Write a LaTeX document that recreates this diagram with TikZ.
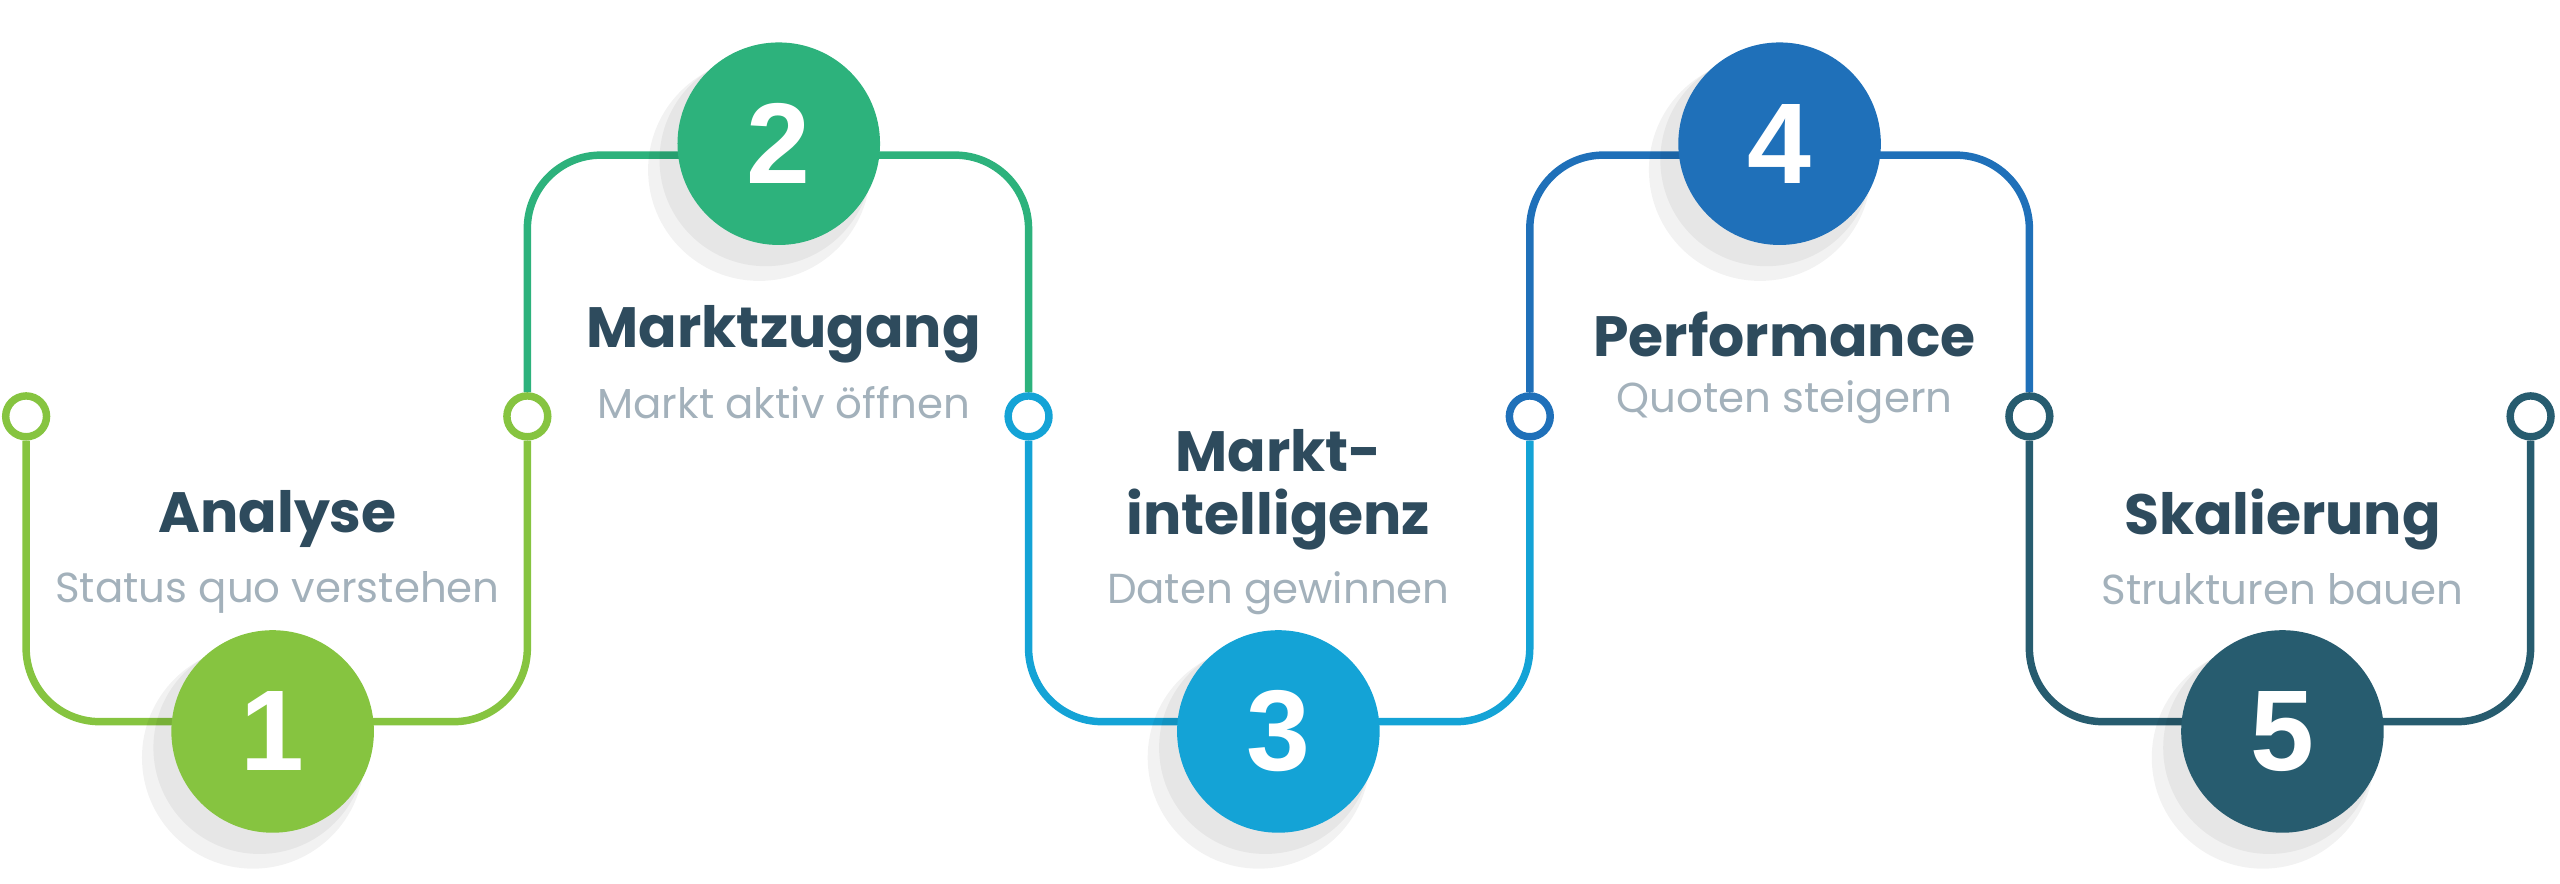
\documentclass[tikz,border=0pt]{standalone}
\usepackage{fontspec}
\setmainfont{Poppins}
\newfontfamily\numfont{Liberation Sans}
\usetikzlibrary{positioning}
\definecolor{cA}{HTML}{86C440}
\definecolor{cB}{HTML}{2DB27C}
\definecolor{cC}{HTML}{14A3D6}
\definecolor{cD}{HTML}{1F70B9}
\definecolor{cE}{HTML}{275C6F}
\definecolor{txt}{HTML}{2E4B5D}
\definecolor{sub}{HTML}{A3B1BB}
\tikzset{
  port/.style={circle, draw=#1, line width=1.3pt, fill=white, minimum size=0.25cm, inner sep=0pt},
  seg/.style={draw=#1, line width=1.3pt, rounded corners=0.45cm},
  step/.style={circle, fill=#1, minimum size=1.24cm, inner sep=0pt, text=white, font=\numfont\bfseries\fontsize{20}{20}\selectfont},
  halo/.style={circle, fill=black, opacity=0.05, minimum size=1.3cm, inner sep=0pt},
  title/.style={text=txt, font=\bfseries\fontsize{9.9}{11}\selectfont, align=center},
  subtitle/.style={text=sub, font=\fontsize{7.3}{8}\selectfont}
}
\begin{document}
\begin{tikzpicture}[x=0.01cm,y=-0.01cm]
  \useasboundingbox (0,0) rectangle (1568,541);
  % ports
  \node[port=cA] (p0) at (16,255) {};
  \node[port=cA] (p1) at (323,255) {};
  \node[port=cC] (p2) at (630,255) {};
  \node[port=cD] (p3) at (937,255) {};
  \node[port=cE] (p4) at (1243,255) {};
  \node[port=cE] (p5) at (1550,255) {};
  % track
  \draw[seg=cA] (p0.south) -- (16,442) -- (323,442) -- (p1.south);
  \draw[seg=cB] (p1.north) -- (323,95) -- (630,95) -- (p2.north);
  \draw[seg=cC] (p2.south) -- (630,442) -- (937,442) -- (p3.south);
  \draw[seg=cD] (p3.north) -- (937,95) -- (1243,95) -- (p4.north);
  \draw[seg=cE] (p4.south) -- (1243,442) -- (1550,442) -- (p5.south);
  % steps
  \foreach \x/\y/\c/\n in {167/448/cA/1, 477/88/cB/2, 783/448/cC/3, 1090/88/cD/4, 1398/448/cE/5}{
    \node[halo] at (\x-8,\y+10) {};
    \node[halo, minimum size=1.36cm] at (\x-12,\y+16) {};
    \node[step=\c] (s\n) at (\x,\y) {\n};
  }
  % labels
  \node[title] (t1) at (170,318) {Analyse};
  \node[subtitle, below=-3pt of t1] {Status quo verstehen};
  \node[title] (t2) at (480,205) {Marktzugang};
  \node[subtitle, below=-3pt of t2] {Markt aktiv öffnen};
  \node[title, inner sep=1pt] (t3) at (783,300) {Markt-\\intelligenz};
  \node[subtitle, below=-1pt of t3] {Daten gewinnen};
  \node[title] (t4) at (1093,205) {Performance};
  \node[subtitle, below=-3pt of t4] {Quoten steigern};
  \node[title] (t5) at (1398,318) {Skalierung};
  \node[subtitle, below=-3pt of t5] {Strukturen bauen};
\end{tikzpicture}
\end{document}
